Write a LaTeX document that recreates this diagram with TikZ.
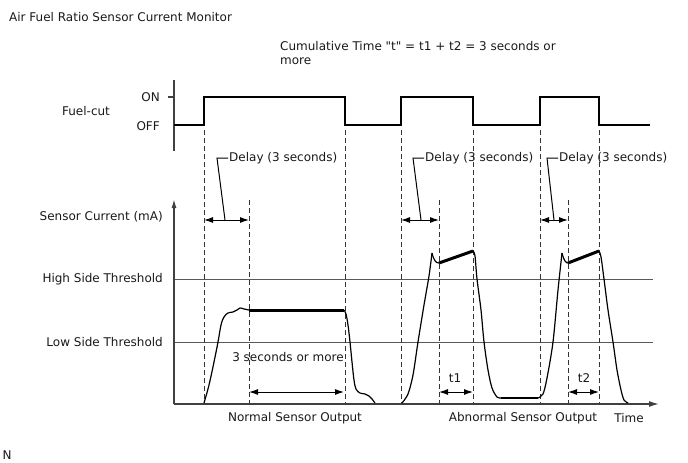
\documentclass[tikz,border=0pt]{standalone}
\usepackage{fontspec}
\setmainfont{DejaVu Sans}[Ligatures=TeXOff]
\usetikzlibrary{arrows.meta}
\begin{document}
\begin{tikzpicture}[x=1pt,y=-1pt,
  txt/.style={font=\fontsize{12}{14}\selectfont, inner sep=0pt, text=black!90},
  axisline/.style={draw=black!75, line width=1.4pt},
  thr/.style={draw=black!65, line width=1pt},
  vdash/.style={draw=black!80, line width=0.9pt, dash pattern=on 5pt off 3pt},
  sig/.style={line width=2pt, line join=miter},
  curv/.style={line width=1.2pt},
  boldseg/.style={line width=3pt},
  dim/.style={line width=1pt, {Latex[length=9pt,width=6pt]}-{Latex[length=9pt,width=6pt]}},
  leader/.style={line width=1pt}
]
\useasboundingbox (0,0) rectangle (688,463);

% texts
\node[txt, anchor=west] (title) at (9,17) {Air Fuel Ratio Sensor Current Monitor};
\node[txt, anchor=west] (cum1) at (280,46) {Cumulative Time "t" = t1 + t2 = 3 seconds or};
\node[txt, anchor=west] (cum2) at (280,61) {more};
\node[txt] (fc) at (86,111) {Fuel-cut};
\node[txt, anchor=east] (on) at (160,97) {ON};
\node[txt, anchor=east] (off) at (160,126) {OFF};
\node[txt, anchor=east] (sc) at (163,217) {Sensor Current (mA)};
\node[txt, anchor=east] (hst) at (163,279) {High Side Threshold};
\node[txt, anchor=east] (lst) at (163,342) {Low Side Threshold};
\node[txt] (nso) at (295,418) {Normal Sensor Output};
\node[txt] (aso) at (523,418) {Abnormal Sensor Output};
\node[txt] (time) at (629,418) {Time};
\node[txt] (N) at (7,455) {N};
\node[txt] (tsm) at (288,357) {3 seconds or more};
\node[txt] (t1) at (455,378) {t1};
\node[txt] (t2) at (584,378) {t2};
\node[txt, anchor=west] (d1) at (229,158) {Delay (3 seconds)};
\node[txt, anchor=west] (d2) at (425,158) {Delay (3 seconds)};
\node[txt, anchor=west] (d3) at (559,158) {Delay (3 seconds)};

% fuel-cut axis
\draw[axisline] (174,80) -- (174,151);
\draw[axisline] (168,97) -- (174,97);
\draw[sig] (174,125) -- (204,125) -- (204,97) -- (345,97) -- (345,125) -- (401,125) -- (401,97)
  -- (473,97) -- (473,125) -- (540,125) -- (540,97) -- (599,97) -- (599,125) -- (650,125);

% thresholds
\draw[thr] (174,279) -- (653,279);
\draw[thr] (174,342) -- (653,342);

% dashed lines
\foreach \x in {204,345,401,473,540,599} \draw[vdash] (\x,130) -- (\x,403);
\foreach \x in {249,439,568} \draw[vdash] (\x,200) -- (\x,403);

% sensor axes
\draw[axisline, -{Latex[length=9pt,width=5pt]}] (174,404) -- (174,199);
\draw[axisline, -{Latex[length=10pt,width=6pt]}] (174,404) -- (659,404);

% delay arrows
\coordinate (a1) at (225,220); \coordinate (b1) at (217,158);
\draw[dim] (204,220) -- (249,220);
\draw[leader] (a1) -- (b1) -- ([xshift=-1pt]d1.west);
\coordinate (a2) at (421,220); \coordinate (b2) at (413,158);
\draw[dim] (401,220) -- (439,220);
\draw[leader] (a2) -- (b2) -- ([xshift=-1pt]d2.west);
\coordinate (a3) at (554,220); \coordinate (b3) at (547,158);
\draw[dim] (540,220) -- (568,220);
\draw[leader] (a3) -- (b3) -- ([xshift=-1pt]d3.west);

% other dimension arrows
\draw[dim] (249,392) -- (344,392);
\draw[dim] (439,392) -- (473,392);
\draw[dim] (568,392) -- (599,392);

% normal curve
\draw[curv] plot[smooth, tension=0.6] coordinates {(204,403) (209,385) (214,362) (218,342) (221,325) (224,317) (228,313) (233,312) (237,310) (240,308) (244,309) (249,310)};
\draw[boldseg] (249,310) -- (344,310);
\draw[curv] plot[smooth, tension=0.6] coordinates {(344,310) (346,314) (348,325) (350,342) (352,362) (354,380) (356,389) (360,393) (365,394) (369,396) (372,399) (375,403)};

% abnormal pulses
\draw[curv] plot[smooth, tension=0.5] coordinates {(402,403) (408,394) (413,375) (418,342) (424,305) (429,276) (432,253)};
\draw[curv] (432,253) .. controls (434,261) and (436,263) .. (439,263);
\draw[boldseg] (439,263) -- (473,251);
\draw[curv] plot[smooth, tension=0.5] coordinates {(473,251) (475,256) (477,279) (481,310) (484,342) (488,370) (492,388) (497,397) (501,398)};
\draw[curv] (501,398) -- (538,398);
\draw[curv] plot[smooth, tension=0.5] coordinates {(538,398) (543,394) (547,378) (553,342) (558,290) (562,253)};
\draw[curv] (562,253) .. controls (564,261) and (566,263) .. (568,263);
\draw[boldseg] (568,263) -- (599,251);
\draw[curv] plot[smooth, tension=0.5] coordinates {(599,251) (601,257) (604,279) (608,310) (613,342) (617,370) (621,390) (624,400) (628,403)};
\end{tikzpicture}
\end{document}
